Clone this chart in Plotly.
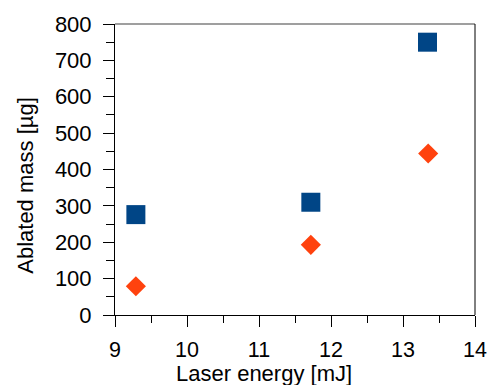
import plotly.graph_objects as go

laser_energy = [9.29, 11.72, 13.34]
mass_series1 = [276, 310, 750]
energy_series2 = [9.29, 11.72, 13.35]
mass_series2 = [79, 193, 444]

x_ticks = [9, 10, 11, 12, 13, 14]
y_ticks = [0, 100, 200, 300, 400, 500, 600, 700, 800]

fig = go.Figure()
fig.add_trace(go.Scatter(x=laser_energy, y=mass_series1, mode="markers",
                         marker=dict(symbol="square", size=19, color="#004586",
                                     line=dict(width=0)), showlegend=False))
fig.add_trace(go.Scatter(x=energy_series2, y=mass_series2, mode="markers",
                         marker=dict(symbol="diamond", size=15.5, color="#ff420e",
                                     line=dict(width=0)), showlegend=False))

font = "Liberation Sans, Arial, sans-serif"
W, H = 499, 385
L, R, T, B = 114.5, 21.3, 20.7, 70
pw, ph = W - L - R, H - T - B

fig.update_layout(
    width=W, height=H,
    margin=dict(l=L, r=R, t=T, b=B),
    paper_bgcolor="white", plot_bgcolor="white",
    font=dict(family=font, size=22, color="black"),
    xaxis=dict(range=[9, 14], tickvals=x_ticks, ticks="outside", ticklen=11,
               tickwidth=1, tickcolor="black", showline=True, linecolor="black",
               linewidth=1, showgrid=False, zeroline=False,
               minor=dict(ticks="outside", ticklen=7, dtick=0.5, tickcolor="black", showgrid=False),
               tickfont=dict(size=21.5), ticklabelstandoff=4),
    yaxis=dict(range=[0, 800], tickvals=y_ticks, ticks="outside", ticklen=11,
               tickwidth=1, tickcolor="black", showline=True, linecolor="black",
               linewidth=1, showgrid=False, zeroline=False,
               minor=dict(ticks="outside", ticklen=8, dtick=50, tickcolor="black", showgrid=False),
               tickfont=dict(size=22), ticklabelstandoff=7),
    annotations=[
        dict(text="Laser energy [mJ]", xref="paper", yref="paper",
             x=(265 - L) / pw, y=-(374.5 - (T + ph)) / ph, xanchor="center", yanchor="middle",
             showarrow=False, font=dict(size=22)),
        dict(text="Ablated mass [µg]", xref="paper", yref="paper",
             x=-(L - 24) / pw, y=1 - (184 - T) / ph, xanchor="center", yanchor="middle",
             textangle=-90, showarrow=False, font=dict(size=22)),
    ],
    shapes=[
        dict(type="line", xref="paper", yref="paper", x0=0, x1=1, y0=1, y1=1,
             line=dict(color="#7f7f7f", width=1.5)),
        dict(type="line", xref="paper", yref="paper", x0=1, x1=1, y0=0, y1=1,
             line=dict(color="black", width=1)),
    ],
)

fig.write_html("out.html")
